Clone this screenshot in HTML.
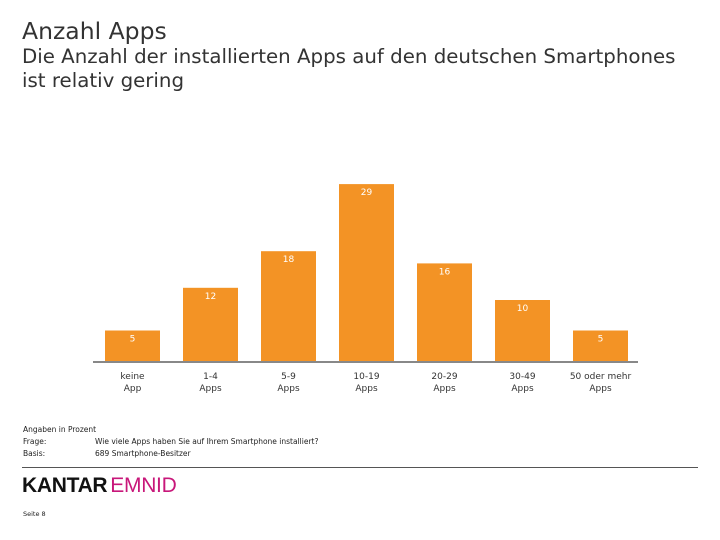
<!DOCTYPE html>
<html><head><meta charset="utf-8"><style>
body{margin:0;width:720px;height:540px;background:#fff;font-family:"DejaVu Sans",sans-serif;position:relative;overflow:hidden;color:#222}
.t{position:absolute;white-space:nowrap}
</style></head><body>
<div class="t" style="left:22px;top:17px;font-size:23.5px;color:#333">Anzahl Apps</div>
<div class="t" style="left:22px;top:45px;font-size:19.8px;line-height:24px;color:#333">Die Anzahl der installierten Apps auf den deutschen Smartphones<br>ist relativ gering</div>
<svg id="c" width="720" height="540" style="position:absolute;left:0;top:0"></svg>
<div class="t" style="left:23px;top:425px;font-size:7.5px">Angaben in Prozent</div>
<div class="t" style="left:23px;top:437px;font-size:7.5px">Frage:</div>
<div class="t" style="left:95px;top:437px;font-size:7.5px">Wie viele Apps haben Sie auf Ihrem Smartphone installiert?</div>
<div class="t" style="left:23px;top:449px;font-size:7.5px">Basis:</div>
<div class="t" style="left:95px;top:449px;font-size:7.5px">689 Smartphone-Besitzer</div>
<div style="position:absolute;left:22px;top:467px;width:676px;height:1px;background:#555"></div>
<div class="t" style="left:22px;top:474px;font-family:'Liberation Sans',sans-serif;font-size:21px;letter-spacing:-0.3px"><span style="color:#111;font-weight:bold">KANTAR</span><span style="color:#c8177a;margin-left:3px">EMNID</span></div>
<div class="t" style="left:23px;top:510px;font-size:6.5px">Seite 8</div>
<script>
const categories=[["keine","App"],["1-4","Apps"],["5-9","Apps"],["10-19","Apps"],["20-29","Apps"],["30-49","Apps"],["50 oder mehr","Apps"]];
const values=[5,12,18,29,16,10,5];
</script>
<script>
const svg=document.getElementById('c');const NS='http://www.w3.org/2000/svg';
const base=361,scale=6.1,x0=105,pitch=78,bw=55;
function y(v){return base-v*scale}
function mk(t,a){const e=document.createElementNS(NS,t);for(const k in a)e.setAttribute(k,a[k]);svg.appendChild(e);return e}
values.forEach((v,i)=>{
 const r=mk('rect',{x:x0+i*pitch,y:y(v),width:bw,height:v*scale,fill:'#f39325'});
 
 
 const t=mk('text',{x:x0+i*pitch+bw/2,y:y(v)+11,'text-anchor':'middle','font-size':'9','fill':'#fff','font-family':'DejaVu Sans'});t.textContent=v;
 
 
 categories[i].forEach((s,j)=>{const l=mk('text',{x:x0+i*pitch+bw/2,y:379+j*12,'text-anchor':'middle','font-size':'9','fill':'#333','font-family':'DejaVu Sans'});l.textContent=s;
 
 });
});
const ax=mk('line',{x1:93,x2:638,y1:base+1,y2:base+1,stroke:'#888','stroke-width':2});


</script>
</body></html>
